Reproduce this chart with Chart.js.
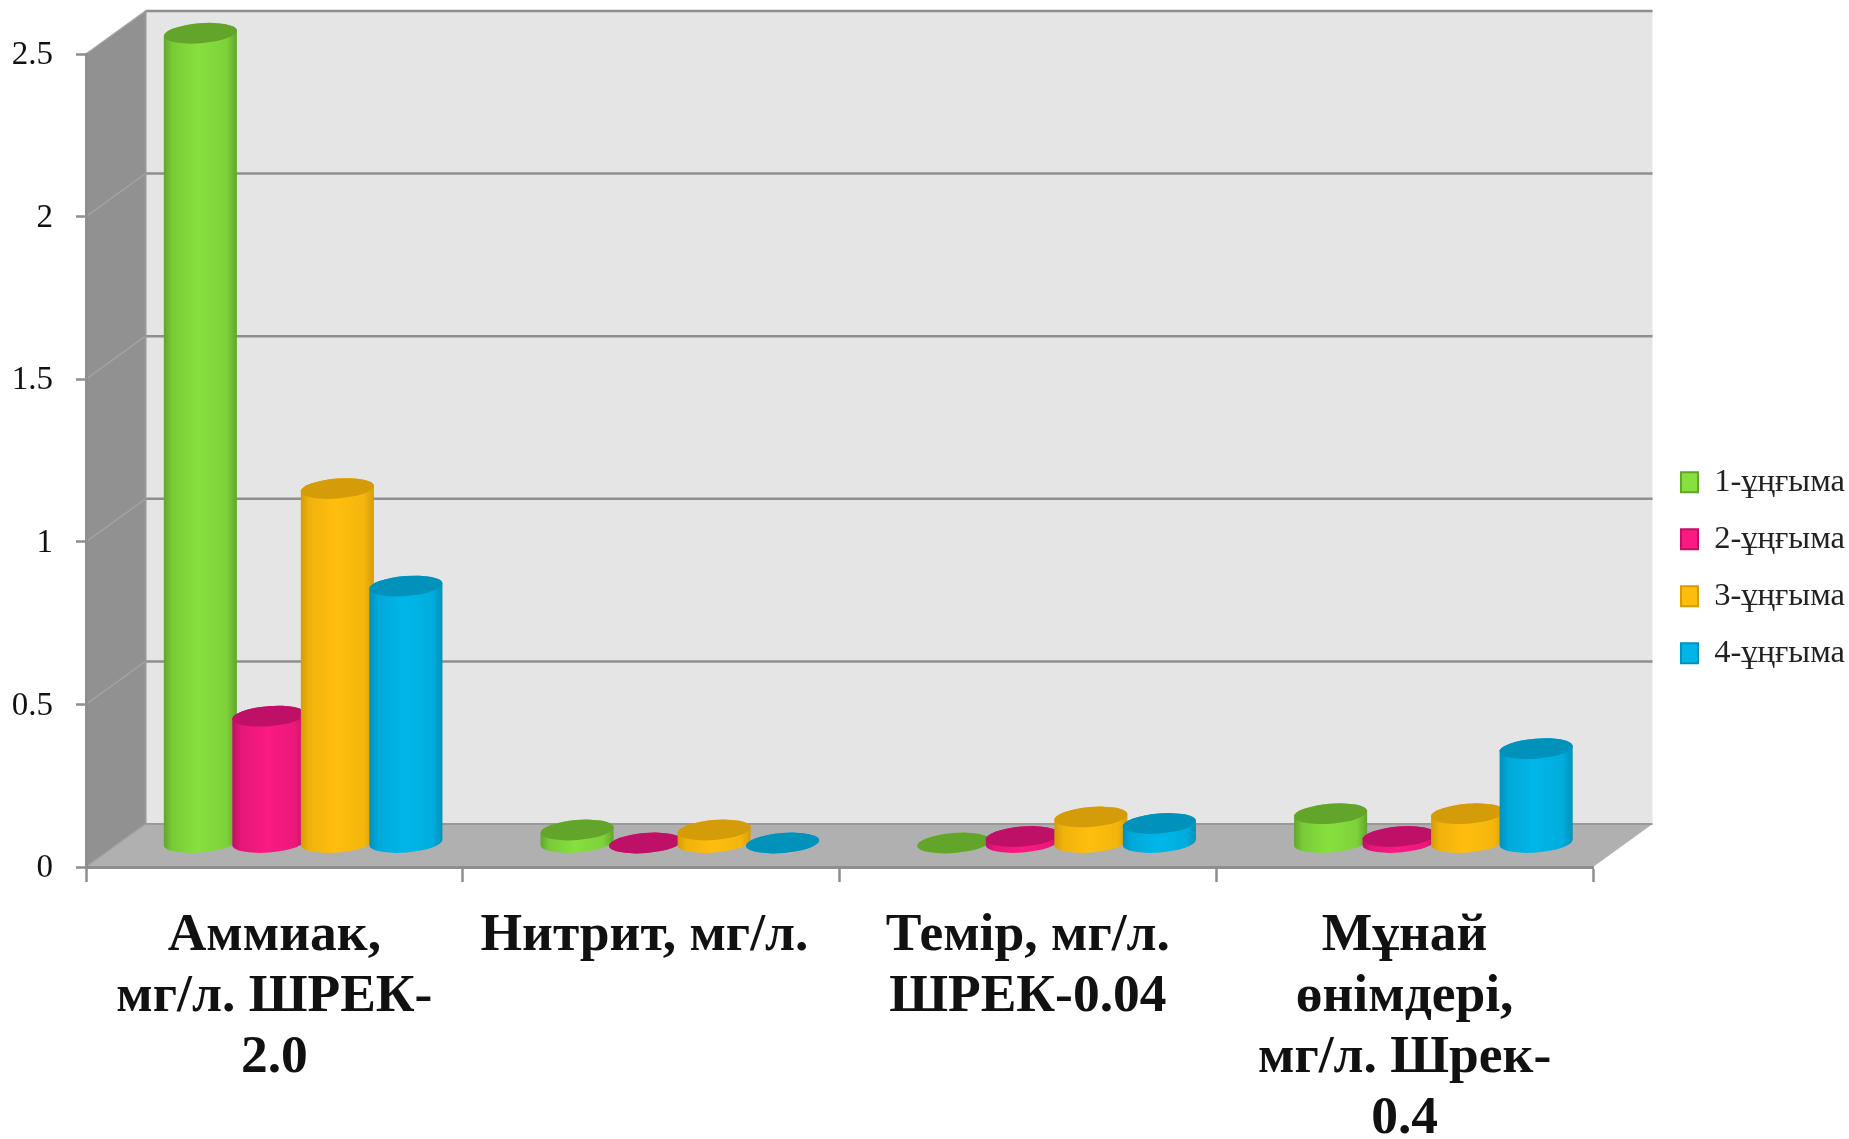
<!DOCTYPE html>
<html>
<head>
<meta charset="utf-8">
<style>
  html, body { margin: 0; padding: 0; background: #fff; }
  canvas { display: block; }
</style>
<script src="https://cdn.jsdelivr.net/npm/chart.js@4/dist/chart.umd.js"></script>
</head>
<body>
<canvas id="chart" width="1849" height="1139"></canvas>
<script>
const categories = [
    ['Аммиак,', 'мг/л. ШРЕК-', '2.0'],
    'Нитрит, мг/л. ',
    ['Темір, мг/л.', 'ШРЕК-0.04'],
    ['Мұнай', 'өнімдері,', 'мг/л. Шрек-', '0.4']
];
const seriesNames = ['1-ұңғыма', '2-ұңғыма', '3-ұңғыма', '4-ұңғыма'];
const well1 = [2.49, 0.04, 0, 0.09];
const well2 = [0.39, 0, 0.02, 0.02];
const well3 = [1.09, 0.04, 0.08, 0.09];
const well4 = [0.79, 0, 0.06, 0.29];
const yTicksMax = 2.5;
const yTicksStep = 0.5;

const bodyColors = ['#86e03e', '#fb1a82', '#ffbe0e', '#00b6e9'];
const topColors = ['#62a52a', '#bd1066', '#d49c08', '#0092bb'];

// depth of the fake 3d box
const depthX = 59.5;
const depthY = -43;
const serif = '"Liberation Serif", "DejaVu Serif", serif';
const lineGrey = '#8e8e8e';

function mix(a, b, t) {
    const pa = parseInt(a.slice(1), 16);
    const pb = parseInt(b.slice(1), 16);
    const ch = s => Math.round(((pa >> s) & 255) * (1 - t) + ((pb >> s) & 255) * t);
    return `rgb(${ch(16)},${ch(8)},${ch(0)})`;
}

// bars are drawn as cylinders, sitting half way into the box
function drawCylinder(ctx, bar) {
    const o = bar.options;
    const cx = bar.x + depthX / 2 - 1;
    const topY = bar.y + depthY / 2 - 2.5;
    const baseY = bar.base + depthY / 2 - 2.5;
    const rx = bar.width * 0.535;
    const ry = 10;
    const tilt = -0.08;

    const grad = ctx.createLinearGradient(cx - rx, 0, cx + rx, 0);
    grad.addColorStop(0, o.borderColor);
    grad.addColorStop(0.12, mix(o.borderColor, o.backgroundColor, 0.65));
    grad.addColorStop(0.47, o.backgroundColor);
    grad.addColorStop(0.86, mix(o.borderColor, o.backgroundColor, 0.75));
    grad.addColorStop(1, o.borderColor);

    ctx.save();
    ctx.beginPath();
    ctx.ellipse(cx, baseY, rx, ry, tilt, Math.PI, 0, true);
    ctx.ellipse(cx, topY, rx, ry, tilt, 0, Math.PI, true);
    ctx.closePath();
    ctx.fillStyle = grad;
    ctx.fill();

    ctx.beginPath();
    ctx.ellipse(cx, topY, rx, ry, tilt, 0, Math.PI * 2);
    ctx.fillStyle = o.borderColor;
    ctx.fill();
    ctx.restore();
}

const boxWalls = {
    id: 'boxWalls',
    beforeLayout(chart) {
        // the legend sits in its own column, right of the box
        const lg = chart.legend;
        if (!lg.fitWrapped) {
            const fit = lg.fit;
            lg.fit = function () {
                fit.call(this);
                this.width = 256;
            };
            lg.fitWrapped = true;
        }
    },
    afterLayout(chart) {
        const lg = chart.legend;
        lg.left = 1656.5;
        lg.right = 1849;
        lg.top = 441.5;
        lg.bottom = 1100;
    },
    beforeDraw(chart) {
        const ctx = chart.ctx;
        const a = chart.chartArea;
        const y = chart.scales.y;

        const poly = (pts, fill) => {
            ctx.beginPath();
            pts.forEach((p, i) => i ? ctx.lineTo(p[0], p[1]) : ctx.moveTo(p[0], p[1]));
            ctx.closePath();
            ctx.fillStyle = fill;
            ctx.fill();
        };

        ctx.save();
        poly([[a.left + depthX, a.top + depthY], [a.right + depthX, a.top + depthY],
              [a.right + depthX, a.bottom + depthY], [a.left + depthX, a.bottom + depthY]], '#e5e5e5');
        poly([[a.left, a.top], [a.left + depthX, a.top + depthY],
              [a.left + depthX, a.bottom + depthY], [a.left, a.bottom]], '#919191');
        poly([[a.left, a.bottom], [a.left + depthX, a.bottom + depthY],
              [a.right + depthX, a.bottom + depthY], [a.right, a.bottom]], '#b0b0b0');

        y.ticks.forEach(t => {
            const py = y.getPixelForValue(t.value);
            if (t.value > 0) {
                ctx.strokeStyle = lineGrey;
                ctx.lineWidth = 2.5;
                ctx.beginPath();
                ctx.moveTo(a.left + depthX, py + depthY);
                ctx.lineTo(a.right + depthX, py + depthY);
                ctx.stroke();
            }
            ctx.strokeStyle = '#a2a2a2';
            ctx.lineWidth = 1.5;
            ctx.beginPath();
            ctx.moveTo(a.left, py);
            ctx.lineTo(a.left + depthX, py + depthY);
            ctx.stroke();
        });

        ctx.strokeStyle = '#999';
        ctx.lineWidth = 2;
        ctx.beginPath();
        ctx.moveTo(a.left + depthX, a.top + depthY);
        ctx.lineTo(a.left + depthX, a.bottom + depthY);
        ctx.moveTo(a.left + depthX, a.bottom + depthY);
        ctx.lineTo(a.right + depthX, a.bottom + depthY);
        ctx.stroke();
        ctx.restore();
    },
    beforeDatasetsDraw(chart) {
        // later wells overlap earlier ones, chart.js would paint them the other way round
        chart.data.datasets.forEach((ds, i) => {
            chart.getDatasetMeta(i).data.forEach(bar => drawCylinder(chart.ctx, bar));
        });
        return false;
    }
};

const allWells = [well1, well2, well3, well4];

new Chart(document.getElementById('chart').getContext('2d'), {
    type: 'bar',
    data: {
        labels: categories,
        datasets: allWells.map((values, i) => ({
            label: seriesNames[i],
            data: values,
            backgroundColor: bodyColors[i],
            borderColor: topColors[i],
            borderWidth: 2,
            categoryPercentage: 0.7274,
            barPercentage: 1
        }))
    },
    options: {
        responsive: false,
        animation: false,
        devicePixelRatio: 1,
        layout: { padding: { top: 54, left: 0, right: 0, bottom: 0 } },
        plugins: {
            tooltip: { enabled: false },
            legend: {
                position: 'right',
                align: 'start',
                labels: {
                    boxWidth: 17,
                    boxHeight: 20,
                    padding: 24.5,
                    color: '#222',
                    font: { family: serif, size: 32.5 }
                }
            }
        },
        scales: {
            x: {
                afterFit(scale) { scale.height = 272; },
                border: { color: lineGrey, width: 3 },
                grid: { drawOnChartArea: false, tickLength: 15, tickWidth: 2.5, tickColor: lineGrey },
                ticks: {
                    autoSkip: false,
                    maxRotation: 0,
                    minRotation: 0,
                    padding: 23.5,
                    color: '#111',
                    font: { family: serif, size: 53.5, weight: 'bold', lineHeight: 1.14 }
                }
            },
            y: {
                min: 0,
                max: yTicksMax,
                afterFit(scale) { scale.width = 86; },
                border: { color: lineGrey, width: 3 },
                grid: { drawOnChartArea: false, tickLength: 10, tickWidth: 2.5, tickColor: lineGrey },
                ticks: {
                    stepSize: yTicksStep,
                    padding: 23,
                    labelOffset: 1.5,
                    color: '#111',
                    font: { family: serif, size: 33 },
                    callback: value => String(value)
                }
            }
        }
    },
    plugins: [boxWalls]
});
</script>
</body>
</html>
